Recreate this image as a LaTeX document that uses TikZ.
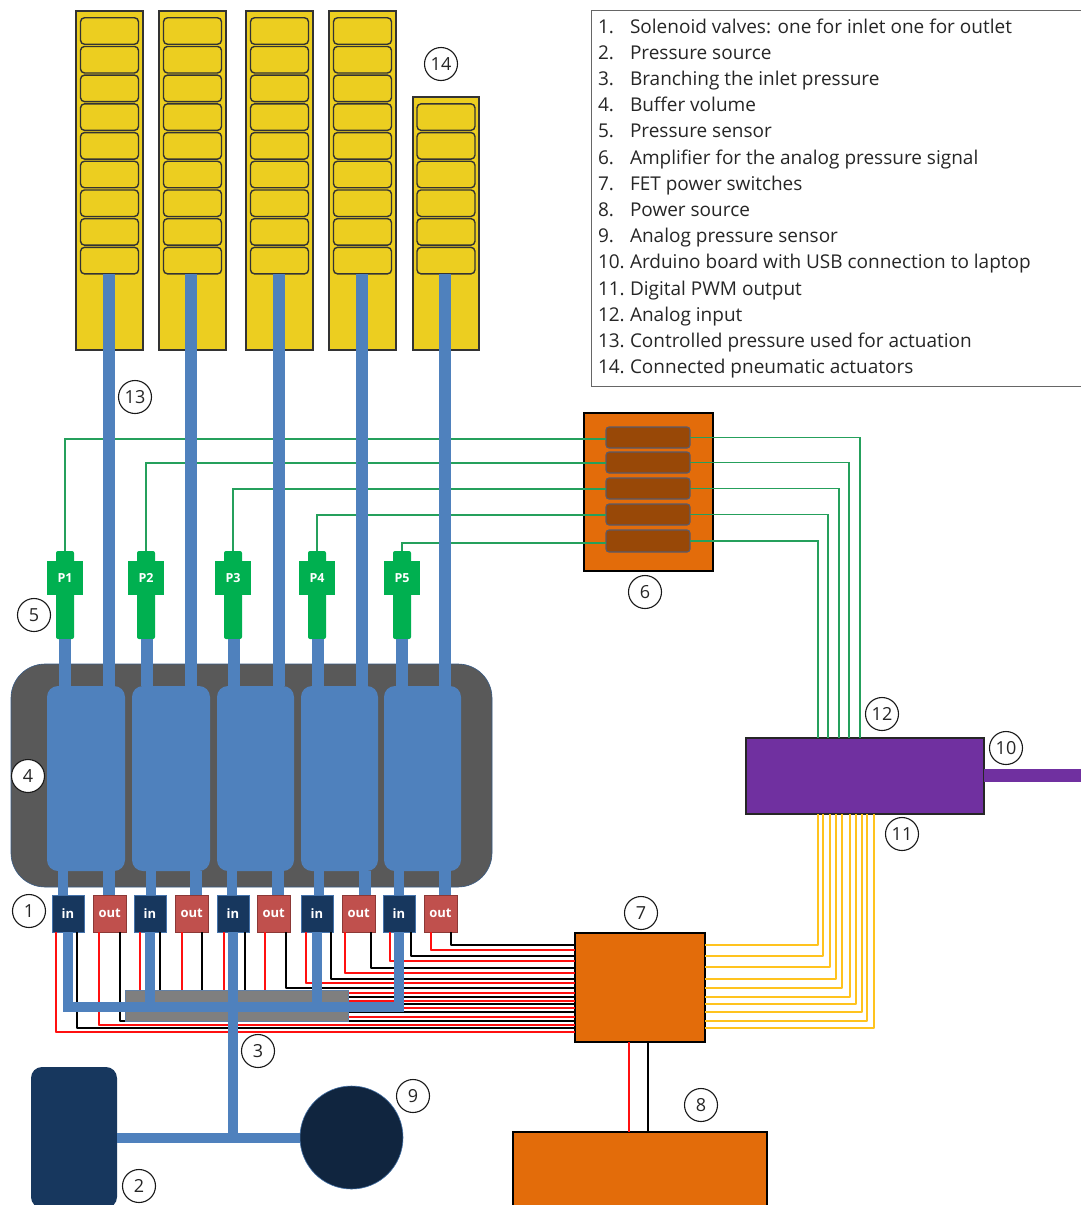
\documentclass[tikz,border=0pt]{standalone}
\usepackage{fontspec}
\setmainfont{Open Sans}
\usetikzlibrary{calc}
\definecolor{tubeblue}{HTML}{4F81BD}
\definecolor{navy}{HTML}{17375E}
\definecolor{deepnavy}{HTML}{10253F}
\definecolor{outred}{HTML}{C0504D}
\definecolor{outredline}{HTML}{8C3836}
\definecolor{strip}{HTML}{ECCE20}
\definecolor{orangebox}{HTML}{E36C0A}
\definecolor{ampfill}{HTML}{984807}
\definecolor{ampline}{HTML}{5A5A6A}
\definecolor{sensor}{HTML}{00B050}
\definecolor{sigline}{HTML}{25A05C}
\definecolor{pwm}{HTML}{FFC31E}
\definecolor{purplebox}{HTML}{7030A0}
\definecolor{darkgray}{HTML}{595959}
\definecolor{midgray}{HTML}{7F7F7F}
\definecolor{wirered}{HTML}{FF1010}
\tikzset{
  box/.style={rectangle,inner sep=0pt,outer sep=0pt,line width=1.2pt},
  stripbox/.style={box,fill=strip,draw=black!80},
  cellbox/.style={box,rounded corners=4pt,fill=strip,draw=black!80,line width=1.4pt},
  bufferbox/.style={box,rounded corners=11pt,fill=tubeblue},
  chassis/.style={box,rounded corners=34pt,fill=darkgray,draw=tubeblue!70!black,line width=.6pt},
  invalve/.style={box,fill=navy,draw=tubeblue!80!navy,line width=.7pt,text=white,font=\fontsize{13}{14}\selectfont\bfseries},
  outvalve/.style={box,fill=outred,draw=outredline,line width=.7pt,text=white,font=\fontsize{13}{14}\selectfont\bfseries},
  sensorstem/.style={box,rounded corners=2pt,fill=sensor},
  sensorbody/.style={box,fill=sensor,text=white,font=\fontsize{12.5}{14}\selectfont\bfseries},
  orangeblock/.style={box,fill=orangebox,draw=black},
  ampbox/.style={box,rounded corners=3pt,fill=ampfill,draw=ampline,line width=1.1pt},
  purpleblock/.style={box,fill=purplebox,draw=black!85},
  barbox/.style={box,fill=midgray,draw=tubeblue!60!midgray,line width=.6pt},
  tube/.style={draw=tubeblue,line width=12pt},
  thintube/.style={draw=tubeblue,line width=10pt},
  redwire/.style={draw=wirered,line width=1.2pt,preaction={draw=wirered!35,line width=2.4pt}},
  blackwire/.style={draw=black,line width=1.3pt},
  signal/.style={draw=sigline,line width=1.7pt},
  pwmwire/.style={draw=pwm,line width=1.7pt},
  usbcable/.style={draw=purplebox,line width=13pt},
  callout/.style={circle,draw=black!90,fill=white,line width=1.1pt,inner sep=0pt,minimum size=33pt,text=black!85,font=\fontsize{18}{20}\selectfont},
  legendbox/.style={box,draw=black!60,line width=.8pt},
  legendline/.style={anchor=base west,inner sep=0pt,outer sep=0pt,text=black!85,font=\fontsize{19}{21}\selectfont},
}
% name, x1, y1, x2, y2, style, text
\newcommand{\rectnode}[7]{%
  \node[#6,minimum width={(#4)*1pt-(#2)*1pt},minimum height={(#5)*1pt-(#3)*1pt}] (#1) at ({((#2)+(#4))/2},{((#3)+(#5))/2}) {#7};%
}
\begin{document}
\begin{tikzpicture}[x=1pt,y=-1pt]
\clip (0,0) rectangle (1081,1205);
\fill[white] (0,0) rectangle (1081,1205);

% legend
\rectnode{legend}{591}{10}{1100}{386}{legendbox}{}
\foreach \n/\ty/\tx in {1/33/{Solenoid valves: one for inlet one for outlet},
  2/59/{Pressure source},
  3/85.3/{Branching the inlet pressure},
  4/111.5/{Buffer volume},
  5/137.7/{Pressure sensor},
  6/164/{Amplifier for the analog pressure signal},
  7/190.2/{FET power switches},
  8/216.4/{Power source},
  9/242.6/{Analog pressure sensor},
  10/268.8/{Arduino board with USB connection to laptop},
  11/295/{Digital PWM output},
  12/321.2/{Analog input},
  13/347.4/{Controlled pressure used for actuation},
  14/373.6/{Connected pneumatic actuators}}{
  \node[legendline] (leg\n) at (598,\ty) {\makebox[32pt][l]{\n.}\tx};
}

% chassis, buffer volume
\rectnode{chassis}{11}{664}{492}{887}{chassis}{}

% actuator strips
\rectnode{s1}{76}{11}{143}{350}{stripbox}{}
\rectnode{s2}{159}{11}{226}{350}{stripbox}{}
\rectnode{s3}{246}{11}{313}{350}{stripbox}{}
\rectnode{s4}{329}{11}{396}{350}{stripbox}{}
\rectnode{s5}{413}{97}{479}{350}{stripbox}{}
\foreach \s/\cx in {1/109.5,2/192.5,3/279.5,4/362.5}{
  \foreach \k in {0,...,8}{
    \node[cellbox,minimum width=58pt,minimum height=26.5pt] (s\s c\k) at (\cx,{31+\k*28.7}) {};
  }
}
\foreach \k in {3,...,8}{
  \node[cellbox,minimum width=58pt,minimum height=26.5pt] (s5c\k) at (446,{31+\k*28.7}) {};
}

% buffers
\rectnode{b1}{47}{686}{125}{871}{bufferbox}{}
\rectnode{b2}{132}{686}{210}{871}{bufferbox}{}
\rectnode{b3}{217}{686}{294}{871}{bufferbox}{}
\rectnode{b4}{301}{686}{378}{871}{bufferbox}{}
\rectnode{b5}{384}{686}{461}{871}{bufferbox}{}

% sensors
\foreach \i/\cx in {1/65,2/146,3/233,4/317,5/402}{
  \node[sensorstem,minimum width=18pt,minimum height=88pt] (ps\i) at (\cx,595) {};
  \node[sensorbody,minimum width=36pt,minimum height=34pt] (p\i) at (\cx,578) {P\i};
}

% amplifier
\rectnode{amp}{584}{413}{713}{571}{orangeblock}{}
\rectnode{a1}{606}{427}{690}{448}{ampbox}{}
\rectnode{a2}{606}{452}{690}{473}{ampbox}{}
\rectnode{a3}{606}{478}{690}{499}{ampbox}{}
\rectnode{a4}{606}{504}{690}{525}{ampbox}{}
\rectnode{a5}{606}{530}{690}{552}{ampbox}{}

% arduino
\rectnode{ard}{746}{738}{984}{814}{purpleblock}{}
\coordinate (usbend) at (1081,775.5);
\draw[usbcable] (ard.east |- usbend) -- (usbend);

% FET block and power
\rectnode{fet}{575}{933}{705}{1042}{orangeblock}{}
\rectnode{power}{513}{1132}{767}{1215}{orangeblock}{}
\draw[redwire] (fet.south -| 629,0) -- (power.north -| 629,0);
\draw[blackwire] (fet.south -| 648,0) -- (power.north -| 648,0);

% valves
\rectnode{v1}{52}{895}{84}{932}{invalve}{in}
\rectnode{v2}{93.5}{895}{126}{932}{outvalve}{out}
\rectnode{v3}{134}{895}{166}{932}{invalve}{in}
\rectnode{v4}{175.5}{895}{208}{932}{outvalve}{out}
\rectnode{v5}{217}{895}{249}{932}{invalve}{in}
\rectnode{v6}{257.5}{895}{290}{932}{outvalve}{out}
\rectnode{v7}{301}{895}{333}{932}{invalve}{in}
\rectnode{v8}{342.5}{895}{375}{932}{outvalve}{out}
\rectnode{v9}{383}{895}{415}{932}{invalve}{in}
\rectnode{v10}{424}{895}{457}{932}{outvalve}{out}

% wires valve -> FET block
\foreach \v/\rx/\ry/\kx/\ky in {1/56/1032/77/1028, 2/99/1025/120/1021, 3/140/1017/160/1012, 4/182/1008/202/1004,
  5/224/1001/245/997, 6/265/993/286/988, 7/306/983/331/979, 8/345/973/371/968, 9/390/961/411/956, 10/431/950/451/945}{
  \draw[redwire,line join=round] (v\v.south -| \rx,0) -- (\rx,\ry) -- (fet.west |- 0,\ry);
  \draw[blackwire,line join=round] (v\v.south -| \kx,0) -- (\kx,\ky) -- (fet.west |- 0,\ky);
}

% PWM wires FET -> arduino
\foreach \x/\y in {818/945,823/956,830/967,836/979,842/988,850/997,856/1004,862/1012,867/1021,874/1028}{
  \draw[pwmwire,line join=round] (fet.east |- 0,\y) -- (\x,\y) -- (ard.south -| \x,0);
}

% distribution bar
\rectnode{bar}{125}{990}{348}{1021}{barbox}{}

% green signal lines
\foreach \i/\y in {1/439,2/463,3/489,4/515,5/543}{
  \draw[signal] (ps\i.north) -- (ps\i.north |- 0,\y) -- (a\i.west |- 0,\y);
}
\draw[signal] (a1.east) -- (860,437.5) -- (ard.north -| 860,0);
\draw[signal] (a2.east) -- (849,462.5) -- (ard.north -| 849,0);
\draw[signal] (a3.east) -- (839,488.5) -- (ard.north -| 839,0);
\draw[signal] (a4.east) -- (828,514.5) -- (ard.north -| 828,0);
\draw[signal] (a5.east) -- (818,541) -- (ard.north -| 818,0);

% pneumatic tubes: actuators to buffers
\foreach \s/\dx in {1/-.5,2/-1.5,3/-.5,4/-.5,5/-1}{
  \draw[tube] ([xshift=\dx pt]s\s c8.south) -- ([xshift=\dx pt]s\s c8.south |- b\s.north);
}
% sensors to buffers
\foreach \s/\dx in {1/0,2/1,3/1,4/1,5/0}{
  \draw[tube] ([xshift=\dx pt]ps\s.south) -- ([xshift=\dx pt]ps\s.south |- b\s.north);
}
% buffers to valves
\foreach \v/\b/\tx in {1/1/63,3/2/151,5/3/232,7/4/319,9/5/399}{
  \draw[thintube] (v\v.north -| \tx,0) -- (b\b.south -| \tx,0);
}
\foreach \v/\b/\tx in {2/1/109,4/2/196,6/3/278,8/4/364.5,10/5/445}{
  \draw[tube] (v\v.north -| \tx,0) -- (b\b.south -| \tx,0);
}

% pressure source and sensor
\rectnode{src}{31}{1067}{117}{1208}{box,rounded corners=11pt,fill=navy}{}
\node[box,circle,fill=deepnavy,draw=tubeblue!80!deepnavy,line width=.6pt,minimum size=103pt] (sens) at (351.5,1137.5) {};

% inlet manifold
\coordinate (busL) at (v1.south |- 0,1006.5);
\coordinate (busR) at (v9.south |- 0,1006.5);
\coordinate (teeA) at (v5.south |- 0,1138);
\draw[thintube,line join=miter] (v1.south) -- (busL) -- ([xshift=5pt]busR);
\draw[thintube] (v3.south) -- (v3.south |- busL);
\draw[thintube] (v7.south) -- (v7.south |- busL);
\draw[thintube] (v9.south) -- (v9.south |- busL);
\draw[thintube] (v5.south) -- ([yshift=5pt]teeA);
\draw[thintube] (src.east |- teeA) -- (sens.west |- teeA);

% callouts
\node[callout] (n1) at (29,911) {1};
\node[callout] (n2) at (139,1186) {2};
\node[callout] (n3) at (258,1051) {3};
\node[callout] (n4) at (28,776) {4};
\node[callout] (n5) at (34,615) {5};
\node[callout] (n6) at (645,592) {6};
\node[callout] (n7) at (641,913) {7};
\node[callout] (n8) at (701,1105) {8};
\node[callout] (n9) at (413,1096) {9};
\node[callout] (n10) at (1006,748) {10};
\node[callout] (n11) at (902,834) {11};
\node[callout] (n12) at (882,714) {12};
\node[callout] (n13) at (135,397) {13};
\node[callout] (n14) at (441,64) {14};
\end{tikzpicture}
\end{document}
